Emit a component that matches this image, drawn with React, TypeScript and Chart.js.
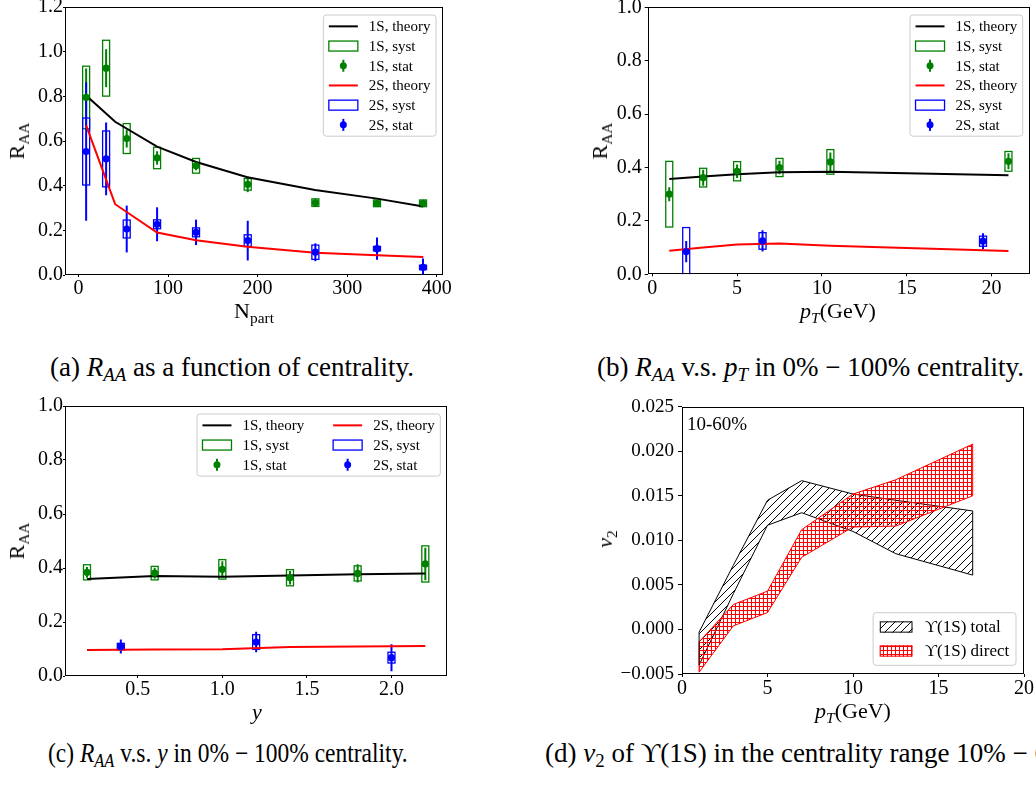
import React, { useEffect, useRef } from "react";
import { Chart, registerables } from "chart.js";

Chart.register(...registerables);

const SERIF = "'Liberation Serif', 'Times New Roman', serif";
const GREEN = "#008000";
const BLUE = "#0000ff";
const RED = "#ff0000";
const BLACK = "#000000";

// ---------- (a) R_AA vs N_part ----------
const npart = [8.6, 30.9, 53.9, 87.8, 131.3, 189.0, 264.5, 333.3, 384.7];
const raa1S_a = [0.795, 0.926, 0.611, 0.524, 0.489, 0.406, 0.324, 0.321, 0.321];
const stat1S_a = [0.13, 0.085, 0.04, 0.03, 0.02, 0.035, 0.01, 0.01, 0.01];
const syst1S_a = [0.14, 0.125, 0.067, 0.048, 0.033, 0.026, 0.017, 0.015, 0.015];
const raa2S_a = [0.553, 0.52, 0.206, 0.227, 0.191, 0.154, 0.102, 0.118, 0.034];
const stat2S_a = [0.31, 0.163, 0.105, 0.076, 0.057, 0.089, 0.04, 0.05, 0.04];
const syst2S_a = [0.15, 0.125, 0.04, 0.02, 0.02, 0.026, 0.032, 0.01, 0.01];
const npartTheory = [8.6, 41, 87.8, 131.4, 188.6, 264.2, 333.4, 385];
const theory1S_a = [0.804, 0.686, 0.575, 0.506, 0.438, 0.381, 0.342, 0.307];
const theory2S_a = [0.67, 0.317, 0.19, 0.156, 0.126, 0.1, 0.088, 0.081];
const npartTicks = [0, 100, 200, 300, 400];
const raaTicks12 = [0, 0.2, 0.4, 0.6, 0.8, 1.0, 1.2];

// ---------- (b) R_AA vs pT ----------
const pt1S_b = [1, 3, 5, 7.5, 10.5, 21];
const raa1S_b = [0.3, 0.362, 0.386, 0.4, 0.421, 0.423];
const stat1S_b = [0.026, 0.03, 0.025, 0.025, 0.035, 0.03];
const syst1S_b = [0.123, 0.035, 0.036, 0.034, 0.046, 0.037];
const pt2S_b = [2, 6.5, 19.5];
const raa2S_b = [0.085, 0.125, 0.124];
const stat2S_b = [0.04, 0.04, 0.03];
const syst2S_b = [0.09, 0.031, 0.019];
const ptTheory_b = [1, 3, 5, 7.5, 10.5, 21];
const theory1S_b = [0.357, 0.366, 0.375, 0.382, 0.384, 0.371];
const theory2S_b = [0.088, 0.1, 0.112, 0.115, 0.107, 0.087];
const ptTicks = [0, 5, 10, 15, 20];
const raaTicks10 = [0, 0.2, 0.4, 0.6, 0.8, 1.0];

// ---------- (c) R_AA vs y ----------
const y1S_c = [0.2, 0.6, 1.0, 1.4, 1.8, 2.2];
const raa1S_c = [0.384, 0.381, 0.395, 0.364, 0.38, 0.415];
const stat1S_c = [0.02, 0.02, 0.03, 0.025, 0.034, 0.06];
const syst1S_c = [0.028, 0.025, 0.036, 0.03, 0.028, 0.067];
const y2S_c = [0.4, 1.2, 2.0];
const raa2S_c = [0.109, 0.126, 0.068];
const stat2S_c = [0.026, 0.038, 0.05];
const syst2S_c = [0.012, 0.027, 0.02];
const yTheory_c = [0.2, 0.6, 1.0, 1.4, 1.8, 2.2];
const theory1S_c = [0.359, 0.37, 0.368, 0.372, 0.377, 0.38];
const theory2S_c = [0.096, 0.098, 0.099, 0.107, 0.109, 0.111];
const rapTicks = [0.5, 1.0, 1.5, 2.0];

// ---------- (d) v2 of Upsilon(1S) ----------
const pt_d = [1, 3, 5, 7, 10, 12.5, 17];
const totalUpper = [-0.0003, 0.0072, 0.0145, 0.0167, 0.0152, 0.0145, 0.0133];
const totalLower = [-0.004, 0.004, 0.0117, 0.0131, 0.011, 0.0085, 0.0061];
const directUpper = [-0.0014, 0.0028, 0.0043, 0.0112, 0.0152, 0.0168, 0.0208];
const directLower = [-0.0048, 0.0004, 0.0019, 0.0081, 0.0115, 0.0116, 0.015];
const v2Ticks = [-0.005, 0, 0.005, 0.01, 0.015, 0.02, 0.025];

const pts = (xs: number[], ys: number[]) => xs.map((x, i) => ({ x, y: ys[i] }));
const minus = (s: string) => s.replace("-", "\u2212");

function hatchPattern(kind: "diag" | "grid", color: string): CanvasPattern {
  const c = document.createElement("canvas");
  const s = kind === "diag" ? 8 : 4;
  c.width = s;
  c.height = s;
  const g = c.getContext("2d")!;
  g.strokeStyle = color;
  g.lineWidth = 1;
  g.beginPath();
  if (kind === "diag") {
    g.moveTo(-1, s + 1);
    g.lineTo(s + 1, -1);
    g.moveTo(-1, 1);
    g.lineTo(1, -1);
    g.moveTo(s - 1, s + 1);
    g.lineTo(s + 1, s - 1);
  } else {
    g.moveTo(0, 0.5);
    g.lineTo(s, 0.5);
    g.moveTo(0.5, 0);
    g.lineTo(0.5, s);
  }
  g.stroke();
  return g.createPattern(c, "repeat")!;
}

// ---- plugins ----
const errPlugin = {
  id: "errs",
  beforeDatasetsDraw(chart: any) {
    const { ctx, chartArea: a, scales } = chart;
    const x = scales.x;
    const y = scales.y;
    ctx.save();
    ctx.beginPath();
    ctx.rect(a.left, a.top, a.right - a.left, a.bottom - a.top);
    ctx.clip();
    chart.data.datasets.forEach((ds: any) => {
      if (!ds.stat) return;
      ds.data.forEach((p: any, i: number) => {
        const px = x.getPixelForValue(p.x);
        const t = y.getPixelForValue(p.y + ds.syst[i]);
        const b = y.getPixelForValue(p.y - ds.syst[i]);
        ctx.strokeStyle = ds.borderColor;
        ctx.lineWidth = 1.3;
        ctx.strokeRect(px - 3.5, t, 7, b - t);
        const st = y.getPixelForValue(p.y + ds.stat[i]);
        const sb = y.getPixelForValue(p.y - ds.stat[i]);
        ctx.lineWidth = 2;
        ctx.beginPath();
        ctx.moveTo(px, st);
        ctx.lineTo(px, sb);
        ctx.stroke();
      });
    });
    ctx.restore();
  },
};

const framePlugin = {
  id: "frame",
  afterDatasetsDraw(chart: any) {
    const { ctx, chartArea: a } = chart;
    ctx.save();
    ctx.strokeStyle = "#000";
    ctx.lineWidth = 1;
    const l = Math.round(a.left) + 0.5;
    const t = Math.round(a.top) + 0.5;
    const r = Math.round(a.right) - 0.5;
    const b = Math.round(a.bottom) - 0.5;
    ctx.strokeRect(l, t, r - l, b - t);
    ctx.restore();
  },
};

const bandEdgePlugin = {
  id: "bandEdges",
  afterDatasetsDraw(chart: any) {
    const o = chart.options.plugins.bandEdges;
    if (!o) return;
    const { ctx } = chart;
    const x = chart.scales.x;
    const y = chart.scales.y;
    ctx.save();
    o.pairs.forEach((pr: number[]) => {
      const up = chart.data.datasets[pr[0]];
      const lo = chart.data.datasets[pr[1]];
      ctx.strokeStyle = up.borderColor;
      ctx.lineWidth = 1;
      [0, up.data.length - 1].forEach((i) => {
        const px = x.getPixelForValue(up.data[i].x);
        ctx.beginPath();
        ctx.moveTo(px, y.getPixelForValue(up.data[i].y));
        ctx.lineTo(px, y.getPixelForValue(lo.data[i].y));
        ctx.stroke();
      });
    });
    ctx.restore();
  },
};

function drawHandle(ctx: CanvasRenderingContext2D, it: any, x: number, cy: number, w: number, h: number) {
  ctx.save();
  if (it.kind === "line") {
    ctx.strokeStyle = it.color;
    ctx.lineWidth = 2;
    ctx.beginPath();
    ctx.moveTo(x, cy);
    ctx.lineTo(x + w, cy);
    ctx.stroke();
  } else if (it.kind === "rect") {
    ctx.strokeStyle = it.color;
    ctx.lineWidth = 1.3;
    ctx.strokeRect(x, cy - h / 2, w, h);
  } else if (it.kind === "stat") {
    const cx = x + w / 2;
    ctx.strokeStyle = it.color;
    ctx.fillStyle = it.color;
    ctx.lineWidth = 2;
    ctx.beginPath();
    ctx.moveTo(cx, cy - 6);
    ctx.lineTo(cx, cy + 6);
    ctx.stroke();
    ctx.beginPath();
    ctx.arc(cx, cy, 3.5, 0, Math.PI * 2);
    ctx.fill();
  } else if (it.kind === "hatch") {
    ctx.fillStyle = it.pattern;
    ctx.fillRect(x, cy - h / 2, w, h);
    ctx.strokeStyle = it.color;
    ctx.lineWidth = 1;
    ctx.strokeRect(x + 0.5, cy - h / 2 + 0.5, w - 1, h - 1);
  }
  ctx.restore();
}

const legendPlugin = {
  id: "boxLegend",
  afterDraw(chart: any) {
    const o = chart.options.plugins.boxLegend;
    if (!o) return;
    const { ctx, chartArea: a } = chart;
    ctx.save();
    ctx.font = `${o.fontSize}px ${SERIF}`;
    const cols = o.columns;
    const rows = Math.ceil(o.items.length / cols);
    const colW: number[] = [];
    for (let c = 0; c < cols; c++) {
      let m = 0;
      for (let r = 0; r < rows; r++) {
        const it = o.items[c * rows + r];
        if (it) m = Math.max(m, ctx.measureText(it.label).width);
      }
      colW.push(o.handleW + o.handleGap + m);
    }
    const w = o.padX * 2 + colW.reduce((s, v) => s + v, 0) + o.colGap * (cols - 1);
    const h = o.padY * 2 + rows * o.rowH;
    const right = a.right - o.dx;
    const left = right - w;
    const top = o.anchor === "br" ? a.bottom - o.dy - h : a.top + o.dy;
    const rad = 3;
    ctx.beginPath();
    ctx.moveTo(left + rad, top);
    ctx.arcTo(left + w, top, left + w, top + h, rad);
    ctx.arcTo(left + w, top + h, left, top + h, rad);
    ctx.arcTo(left, top + h, left, top, rad);
    ctx.arcTo(left, top, left + w, top, rad);
    ctx.closePath();
    ctx.fillStyle = "rgba(255,255,255,0.8)";
    ctx.fill();
    ctx.strokeStyle = "#cccccc";
    ctx.lineWidth = 1;
    ctx.stroke();
    let cx = left + o.padX;
    for (let c = 0; c < cols; c++) {
      for (let r = 0; r < rows; r++) {
        const it = o.items[c * rows + r];
        if (!it) continue;
        const cy = top + o.padY + o.rowH * (r + 0.5);
        drawHandle(ctx, it, cx, cy, o.handleW, o.handleH);
        ctx.fillStyle = "#000";
        ctx.textBaseline = "middle";
        ctx.textAlign = "left";
        ctx.fillText(it.label, cx + o.handleW + o.handleGap, cy + 1);
      }
      cx += colW[c] + o.colGap;
    }
    ctx.restore();
  },
};

type AxisSpec = {
  min: number;
  max: number;
  ticks: number[];
  fmt: (v: number) => string;
  tickLen: number;
  pad: number;
  size: number;
};

function axis(s: AxisSpec, isX: boolean, extent: number) {
  return {
    type: "linear",
    min: s.min,
    max: s.max,
    afterBuildTicks: (sc: any) => {
      sc.ticks = s.ticks.map((v) => ({ value: v }));
    },
    afterFit: (sc: any) => {
      if (isX) sc.height = extent;
      else sc.width = extent;
      sc.paddingTop = 0;
      sc.paddingBottom = 0;
      sc.paddingLeft = 0;
      sc.paddingRight = 0;
    },
    ticks: {
      callback: (v: any) => s.fmt(Number(v)),
      font: { family: SERIF, size: s.size },
      color: "#000",
      padding: s.pad,
      maxRotation: 0,
      minRotation: 0,
      autoSkip: false,
    },
    grid: {
      display: true,
      drawOnChartArea: false,
      drawTicks: true,
      tickLength: s.tickLen,
      color: "#000",
      lineWidth: 1,
    },
    border: { display: false },
  };
}

function baseOptions(pad: any, x: AxisSpec, xH: number, y: AxisSpec, yW: number, extraPlugins: any) {
  return {
    animation: false,
    responsive: false,
    devicePixelRatio: 1,
    events: [],
    layout: { padding: pad, autoPadding: false },
    plugins: { legend: { display: false }, tooltip: { enabled: false }, ...extraPlugins },
    scales: { x: axis(x, true, xH), y: axis(y, false, yW) },
  };
}

const f0 = (v: number) => v.toFixed(0);
const f1 = (v: number) => v.toFixed(1);
const f3 = (v: number) => minus(v.toFixed(3));

const raaLegendItems = [
  { kind: "line", color: BLACK, label: "1S, theory" },
  { kind: "rect", color: GREEN, label: "1S, syst" },
  { kind: "stat", color: GREEN, label: "1S, stat" },
  { kind: "line", color: RED, label: "2S, theory" },
  { kind: "rect", color: BLUE, label: "2S, syst" },
  { kind: "stat", color: BLUE, label: "2S, stat" },
];

function raaDatasets(
  x1: number[], y1: number[], st1: number[], sy1: number[],
  x2: number[], y2: number[], st2: number[], sy2: number[],
  xt: number[], t1: number[], t2: number[]
) {
  return [
    { type: "scatter", data: pts(x1, y1), backgroundColor: GREEN, borderColor: GREEN, pointRadius: 3.6, pointBorderWidth: 0, stat: st1, syst: sy1 },
    { type: "scatter", data: pts(x2, y2), backgroundColor: BLUE, borderColor: BLUE, pointRadius: 3.6, pointBorderWidth: 0, stat: st2, syst: sy2 },
    { type: "line", data: pts(xt, t1), borderColor: BLACK, borderWidth: 2, pointRadius: 0, fill: false, tension: 0 },
    { type: "line", data: pts(xt, t2), borderColor: RED, borderWidth: 2, pointRadius: 0, fill: false, tension: 0 },
  ];
}

const legendBase = { handleW: 29, handleH: 10, handleGap: 11, padX: 5.5, padY: 1.5, rowH: 19.7, fontSize: 15, colGap: 29 };
const TICK = 20;

function configA() {
  return {
    type: "scatter",
    data: { datasets: raaDatasets(npart, raa1S_a, stat1S_a, syst1S_a, npart, raa2S_a, stat2S_a, syst2S_a, npartTheory, theory1S_a, theory2S_a) },
    options: baseOptions(
      { left: 0, top: 7, right: 27, bottom: 0 },
      { min: -15, max: 407, ticks: npartTicks, fmt: f0, tickLen: 2, pad: 0, size: TICK }, 55,
      { min: 0, max: 1.2, ticks: raaTicks12, fmt: f1, tickLen: 2, pad: 0, size: TICK }, 65,
      { boxLegend: { ...legendBase, items: raaLegendItems, columns: 1, anchor: "tr", dx: 7, dy: 8 } }
    ),
    plugins: [errPlugin, framePlugin, legendPlugin],
  };
}

function configB() {
  return {
    type: "scatter",
    data: { datasets: raaDatasets(pt1S_b, raa1S_b, stat1S_b, syst1S_b, pt2S_b, raa2S_b, stat2S_b, syst2S_b, ptTheory_b, theory1S_b, theory2S_b) },
    options: baseOptions(
      { left: 0, top: 7.3, right: 6, bottom: 0 },
      { min: -0.27, max: 22.27, ticks: ptTicks, fmt: f0, tickLen: 2, pad: 0, size: TICK }, 55.7,
      { min: 0, max: 1.0, ticks: raaTicks10, fmt: f1, tickLen: 3, pad: 3, size: TICK }, 72.7,
      { boxLegend: { ...legendBase, items: raaLegendItems, columns: 1, anchor: "tr", dx: 7.3, dy: 7.7 } }
    ),
    plugins: [errPlugin, framePlugin, legendPlugin],
  };
}

function configC() {
  return {
    type: "scatter",
    data: { datasets: raaDatasets(y1S_c, raa1S_c, stat1S_c, syst1S_c, y2S_c, raa2S_c, stat2S_c, syst2S_c, yTheory_c, theory1S_c, theory2S_c) },
    options: baseOptions(
      { left: 0, top: 16, right: 22.7, bottom: 0 },
      { min: 0.07, max: 2.33, ticks: rapTicks, fmt: f1, tickLen: 2, pad: 0, size: TICK }, 24,
      { min: 0, max: 1.0, ticks: raaTicks10, fmt: f1, tickLen: 2, pad: 0, size: TICK }, 65,
      { boxLegend: { ...legendBase, items: raaLegendItems, columns: 2, anchor: "tr", dx: 7, dy: 8 } }
    ),
    plugins: [errPlugin, framePlugin, legendPlugin],
  };
}

function configD() {
  const redGrid = hatchPattern("grid", RED);
  const blackDiag = hatchPattern("diag", BLACK);
  return {
    type: "line",
    data: {
      datasets: [
        { data: pts(pt_d, directUpper), borderColor: RED, borderWidth: 1, pointRadius: 0, tension: 0, fill: { target: "+1", above: redGrid, below: redGrid }, backgroundColor: redGrid },
        { data: pts(pt_d, directLower), borderColor: RED, borderWidth: 1, pointRadius: 0, tension: 0, fill: false },
        { data: pts(pt_d, totalUpper), borderColor: BLACK, borderWidth: 1, pointRadius: 0, tension: 0, fill: { target: "+1", above: blackDiag, below: blackDiag }, backgroundColor: blackDiag },
        { data: pts(pt_d, totalLower), borderColor: BLACK, borderWidth: 1, pointRadius: 0, tension: 0, fill: false },
      ],
    },
    options: baseOptions(
      { left: 0, top: 16.7, right: 12, bottom: 0 },
      { min: 0, max: 20, ticks: ptTicks, fmt: f0, tickLen: 3, pad: 0, size: TICK }, 26,
      { min: -0.005, max: 0.025, ticks: v2Ticks, fmt: f3, tickLen: 4, pad: 4, size: 19 }, 107,
      {
        bandEdges: { pairs: [[0, 1], [2, 3]] },
        boxLegend: {
          handleW: 32.7, handleH: 11.3, handleGap: 12.3, padX: 6.7, padY: 2.3, rowH: 24, fontSize: 17, colGap: 0,
          columns: 1, anchor: "br", dx: 8, dy: 8.7,
          items: [
            { kind: "hatch", color: BLACK, pattern: blackDiag, label: "\u03D2(1S) total" },
            { kind: "hatch", color: RED, pattern: redGrid, label: "\u03D2(1S) direct" },
          ],
        },
      }
    ),
    plugins: [bandEdgePlugin, framePlugin, legendPlugin],
  };
}

function ChartCanvas({ make, left, top, width, height }: { make: () => any; left: number; top: number; width: number; height: number }) {
  const ref = useRef<HTMLCanvasElement>(null);
  useEffect(() => {
    const chart = new Chart(ref.current as HTMLCanvasElement, make());
    return () => chart.destroy();
  }, []);
  return (
    <canvas
      ref={ref}
      width={width}
      height={height}
      style={{ position: "absolute", left, top, width, height, display: "block" }}
    />
  );
}

const Sub = ({ children }: { children: React.ReactNode }) => (
  <span style={{ fontSize: "0.7em", verticalAlign: "-0.3em", lineHeight: 0 }}>{children}</span>
);

function Label({ x, y, size, rotate, children }: { x: number; y: number; size: number; rotate?: boolean; children: React.ReactNode }) {
  return (
    <div
      style={{
        position: "absolute",
        left: x,
        top: y,
        fontFamily: SERIF,
        fontSize: size,
        lineHeight: 1,
        whiteSpace: "nowrap",
        color: "#000",
        transform: `translate(-50%, -50%)${rotate ? " rotate(-90deg)" : ""}`,
      }}
    >
      {children}
    </div>
  );
}

function Caption({ x, y, sx, children }: { x: number; y: number; sx?: number; children: React.ReactNode }) {
  return (
    <div
      style={{
        position: "absolute",
        left: x,
        top: y,
        fontFamily: SERIF,
        fontSize: 27,
        lineHeight: 1,
        whiteSpace: "nowrap",
        color: "#000",
        transformOrigin: "0 50%",
        transform: `translateY(-50%) scaleX(${sx ?? 1})`,
      }}
    >
      {children}
    </div>
  );
}

const RAA = () => (
  <>
    R<Sub>AA</Sub>
  </>
);

export default function App() {
  return (
    <div
      style={{
        position: "absolute",
        left: 0,
        top: 0,
        width: 1036,
        height: 789,
        overflow: "hidden",
        background: "#fff",
      }}
    >
      <ChartCanvas make={configA} left={0} top={0} width={470} height={330} />
      <ChartCanvas make={configB} left={575} top={0} width={461} height={330} />
      <ChartCanvas make={configC} left={0} top={390} width={470} height={310} />
      <ChartCanvas make={configD} left={575} top={390} width={461} height={310} />

      <Label x={17} y={141} size={22} rotate><RAA /></Label>
      <Label x={254} y={311} size={22}>N<Sub>part</Sub></Label>
      <Label x={600} y={141} size={22} rotate><RAA /></Label>
      <Label x={838} y={311} size={22}><i>p</i><Sub><i>T</i></Sub>(GeV)</Label>
      <Label x={17} y={541} size={22} rotate><RAA /></Label>
      <Label x={257} y={712} size={22}><i>y</i></Label>
      <Label x={605} y={539} size={22} rotate><i>v</i><Sub>2</Sub></Label>
      <Label x={853} y={711} size={22}><i>p</i><Sub><i>T</i></Sub>(GeV)</Label>
      <Label x={717} y={423} size={19}>10-60%</Label>

      <Caption x={50} y={367}>(a) <i>R<Sub>AA</Sub></i> as a function of centrality.</Caption>
      <Caption x={597} y={367}>(b) <i>R<Sub>AA</Sub></i> v.s. <i>p<Sub>T</Sub></i> in 0% − 100% centrality.</Caption>
      <Caption x={48} y={753} sx={0.87}>(c) <i>R<Sub>AA</Sub></i> v.s. <i>y</i> in 0% − 100% centrality.</Caption>
      <Caption x={545} y={753}>(d) <i>v</i><Sub>2</Sub> of ϒ(1S) in the centrality range 10% − 60% centrality.</Caption>
    </div>
  );
}
